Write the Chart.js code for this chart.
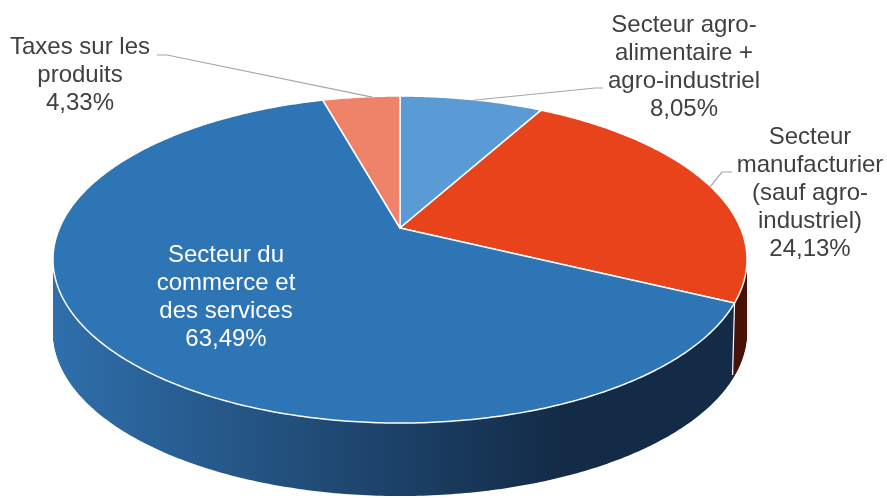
<!DOCTYPE html>
<html lang="fr">
<head>
<meta charset="utf-8">
<script src="https://cdn.jsdelivr.net/npm/chart.js@4/dist/chart.umd.min.js"></script>
<style>
  html, body { margin:0; padding:0; background:#fff; }
  #wrap { width:887px; height:498px; }
</style>
</head>
<body>
<div id="wrap"><canvas id="pie" width="887" height="498"></canvas></div>
<script>
/* global Chart */

// ---------- DATA ----------
const categories = [
  ['Secteur agro-', 'alimentaire +', 'agro-industriel'],
  ['Secteur', 'manufacturier', '(sauf agro-', 'industriel)'],
  ['Secteur du', 'commerce et', 'des services'],
  ['Taxes sur les', 'produits']
];
const shares     = [8.05, 24.13, 63.49, 4.33];
const topColors  = ['#5B9BD5', '#E8431B', '#2E75B6', '#EE836A'];
// side colours: [left, right] of the gradient
const sideColors = [
  ['#3E78AE', '#23466A'],
  ['#7A2409', '#4A1204'],
  ['#2F6FAB', '#132B47'],
  ['#B4604E', '#6A3226']
];

// ---------- LAYOUT ----------
// tilted-disc projection: y' = (PA*v + PB)/(1 + PC*v), x' = CX + PK*u/(1 + PC*v)
const CX = 400;
const PA = 113.5, PB = 228, PC = -0.1927, PK = 340.5;
const DEPTH = 73;              // thickness of the disc
const FONT = '24px "Liberation Sans", Arial, sans-serif';
const LINE_H = 28;
// label block: centre x, y of first line, colour
const labelPos = [
  { x:684, y:25,  color:'#404040' },
  { x:810, y:137, color:'#404040' },
  { x:226, y:255, color:'#FFFFFF' },
  { x:80,  y:47,  color:'#404040' }
];
// leader lines: start points, and where (fraction of slice) they touch the pie
const leaders = [
  { pts:[[603,88],[595,88]], frac:0.51 },
  { pts:[[732,172],[722,172]], frac:0.52 },
  null,
  { pts:[[157,55],[167,55]], frac:0.64 }
];

const fmtPct = v => v.toFixed(2).replace('.', ',') + '%';

// canvas angle of a pie arc -> screen point on the tilted disc
function project (a, k = 1) {
  const u = k * Math.cos(a), v = k * Math.sin(a);
  const d = 1 + PC * v;
  return [CX + PK * u / d, (PA * v + PB) / d];
}

const pie3d = {
  id: 'pie3d',
  beforeDatasetsDraw (chart) {
    const ctx  = chart.ctx;
    const arcs = chart.getDatasetMeta(0).data;

    function sectorPath (arc, dy) {
      const c = project(0, 0);
      const n = Math.max(8, Math.ceil((arc.endAngle - arc.startAngle) * 90));
      ctx.beginPath();
      ctx.moveTo(c[0], c[1] + dy);
      for (let s = 0; s <= n; s++) {
        const p = project(arc.startAngle + (arc.endAngle - arc.startAngle) * s / n);
        ctx.lineTo(p[0], p[1] + dy);
      }
      ctx.closePath();
    }

    ctx.save();
    ctx.setTransform(1, 0, 0, 1, 0, 0);

    /* 1. side of the disc : stacked copies, bottom first */
    const grads = sideColors.map(sc => {
      const g = ctx.createLinearGradient(53, 0, 560, 0);
      g.addColorStop(0, sc[0]);
      g.addColorStop(1, sc[1]);
      return g;
    });
    for (let dy = DEPTH; dy >= 1; dy--) {
      arcs.forEach((arc, i) => {
        sectorPath(arc, dy);
        ctx.fillStyle = grads[i];
        ctx.fill();
      });
    }

    /* white seams on the side where slices meet (front half only) */
    ctx.strokeStyle = '#FFFFFF';
    ctx.lineWidth = 1.2;
    arcs.forEach(arc => {
      const a = arc.endAngle;
      if (Math.sin(a) > 0) {
        const [px, py] = project(a);
        ctx.beginPath();
        ctx.moveTo(px, py);
        ctx.lineTo(px - 2, py + DEPTH - 1);
        ctx.stroke();
      }
    });

    /* 2. top face */
    arcs.forEach((arc, i) => {
      sectorPath(arc, 0);
      ctx.fillStyle = topColors[i];
      ctx.fill();
      ctx.strokeStyle = '#FFFFFF';
      ctx.lineWidth = 1.5;
      ctx.lineJoin = 'round';
      ctx.stroke();
    });
    ctx.restore();
    return false;   // skip Chart.js' own flat pie
  },

  afterDraw (chart) {
    const ctx  = chart.ctx;
    const arcs = chart.getDatasetMeta(0).data;
    ctx.save();
    ctx.setTransform(1, 0, 0, 1, 0, 0);

    /* leader lines */
    ctx.strokeStyle = '#A6A6A6';
    ctx.lineWidth = 1.2;
    leaders.forEach((ld, i) => {
      if (!ld) return;
      const arc = arcs[i];
      const a = arc.startAngle + (arc.endAngle - arc.startAngle) * ld.frac;
      const [ex, ey] = project(a, 0.995);
      ctx.beginPath();
      ctx.moveTo(ld.pts[0][0], ld.pts[0][1]);
      ld.pts.slice(1).forEach(p => ctx.lineTo(p[0], p[1]));
      ctx.lineTo(ex, ey);
      ctx.stroke();
    });

    /* text */
    ctx.font = FONT;
    ctx.textAlign = 'center';
    ctx.textBaseline = 'middle';
    categories.forEach((lines, i) => {
      const p = labelPos[i];
      ctx.fillStyle = p.color;
      const all = lines.concat([fmtPct(shares[i])]);
      all.forEach((t, k) => ctx.fillText(t, p.x, p.y + k * LINE_H));
    });
    ctx.restore();
  }
};

new Chart(document.getElementById('pie'), {
  type: 'pie',
  data: {
    labels: categories.map(l => l.join(' ')),
    datasets: [{
      data: shares,
      backgroundColor: topColors,
      borderWidth: 0
    }]
  },
  options: {
    responsive: false,
    animation: false,
    events: [],
    plugins: {
      legend: { display: false },
      tooltip: { enabled: false }
    }
  },
  plugins: [pie3d]
});
</script>
</body>
</html>
